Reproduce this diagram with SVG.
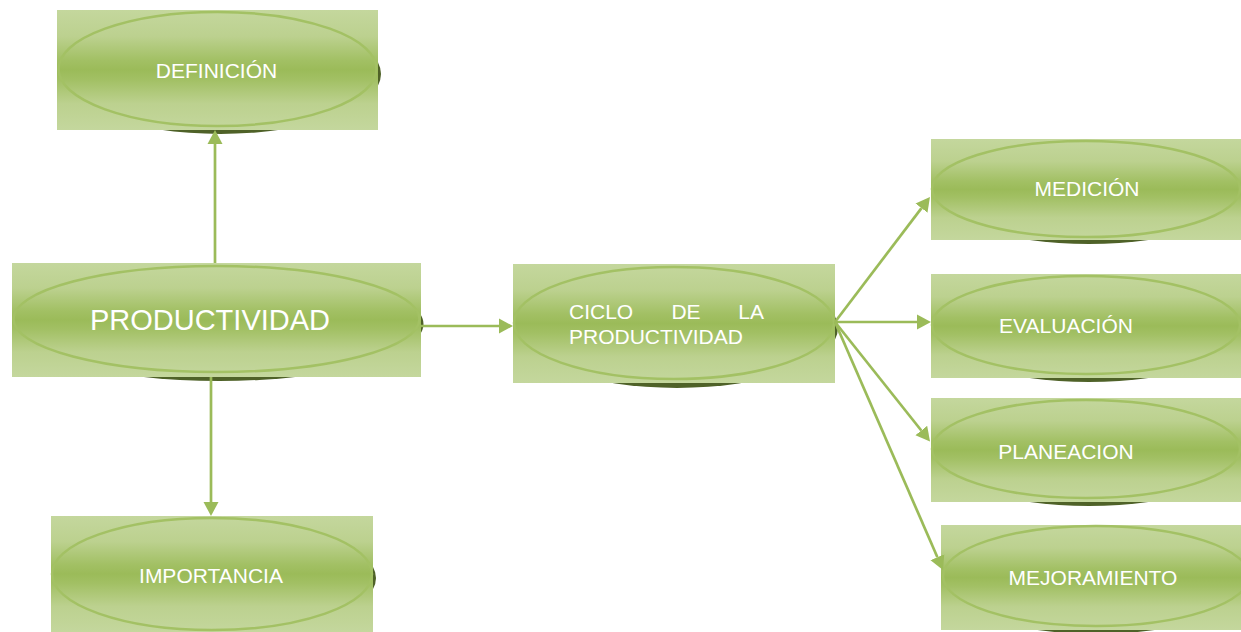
<svg xmlns="http://www.w3.org/2000/svg" width="1241" height="632" viewBox="0 0 1241 632">
  <defs>
    <linearGradient id="fillGrad" x1="0" y1="0" x2="0" y2="1">
      <stop offset="0" stop-color="#c4d79d"/>
      <stop offset="0.22" stop-color="#bcd18f"/>
      <stop offset="0.42" stop-color="#a2c064"/>
      <stop offset="0.5" stop-color="#9bbb59"/>
      <stop offset="0.58" stop-color="#a2c064"/>
      <stop offset="0.78" stop-color="#bcd18f"/>
      <stop offset="1" stop-color="#c4d79d"/>
    </linearGradient>
    <marker id="arrow" markerUnits="userSpaceOnUse" markerWidth="16" markerHeight="18" refX="0" refY="8" orient="auto" viewBox="0 -1 16 18">
      <path d="M0,0.5 L14,8 L0,15.5 z" fill="#9bbb59"/>
    </marker>
    <style>
      .shadow { fill: #4f6228; }
      .box { fill: url(#fillGrad); }
      .ring { fill: none; stroke: #a3c164; stroke-width: 2.5; }
      .label { fill: #ffffff; font-family: "Liberation Sans", Arial, sans-serif; font-size: 21px; }
      .big { font-size: 29px; }
      .link { stroke: #9bbb59; stroke-width: 2.7; fill: none; marker-end: url(#arrow); }
    </style>
  </defs>

  <rect width="1241" height="632" fill="#ffffff"/>

  <!-- DEFINICIÓN -->
  <g id="definicion">
    <ellipse class="shadow" cx="220.5" cy="74" rx="160.5" ry="60"/>
    <rect class="box" x="57" y="10" width="321" height="120"/>
    <ellipse class="ring" cx="217.5" cy="69" rx="159" ry="57"/>
    <text class="label" x="216.5" y="78" text-anchor="middle">DEFINICIÓN</text>
  </g>

  <!-- PRODUCTIVIDAD -->
  <g id="productividad">
    <ellipse class="shadow" cx="219.5" cy="324" rx="204" ry="57"/>
    <rect class="box" x="12" y="263" width="409" height="114"/>
    <ellipse class="ring" cx="216.5" cy="319" rx="203" ry="53"/>
    <text class="label big" x="210" y="330" text-anchor="middle">PRODUCTIVIDAD</text>
  </g>

  <!-- CICLO DE LA PRODUCTIVIDAD -->
  <g id="ciclo">
    <ellipse class="shadow" cx="677" cy="328" rx="161" ry="60"/>
    <rect class="box" x="513" y="264" width="322" height="119"/>
    <ellipse class="ring" cx="674" cy="323" rx="160" ry="56"/>
    <text class="label" x="569" y="319">CICLO</text>
    <text class="label" x="686" y="319" text-anchor="middle">DE</text>
    <text class="label" x="764" y="319" text-anchor="end">LA</text>
    <text class="label" x="569" y="344">PRODUCTIVIDAD</text>
  </g>

  <!-- IMPORTANCIA -->
  <g id="importancia">
    <ellipse class="shadow" cx="215" cy="578" rx="161" ry="58"/>
    <rect class="box" x="51" y="516" width="322" height="116"/>
    <ellipse class="ring" cx="212" cy="574" rx="160" ry="56"/>
    <text class="label" x="211" y="583" text-anchor="middle">IMPORTANCIA</text>
  </g>

  <!-- MEDICIÓN -->
  <g id="medicion">
    <ellipse class="shadow" cx="1089" cy="193" rx="155" ry="51"/>
    <rect class="box" x="931" y="139" width="312" height="101"/>
    <ellipse class="ring" cx="1086" cy="189" rx="154" ry="48"/>
    <text class="label" x="1087" y="196" text-anchor="middle">MEDICIÓN</text>
  </g>

  <!-- EVALUACIÓN -->
  <g id="evaluacion">
    <ellipse class="shadow" cx="1089" cy="330" rx="155" ry="52"/>
    <rect class="box" x="931" y="274" width="312" height="104"/>
    <ellipse class="ring" cx="1086" cy="325" rx="154" ry="49"/>
    <text class="label" x="1066" y="333" text-anchor="middle">EVALUACIÓN</text>
  </g>

  <!-- PLANEACION -->
  <g id="planeacion">
    <ellipse class="shadow" cx="1089" cy="454" rx="155" ry="52"/>
    <rect class="box" x="931" y="398" width="312" height="104"/>
    <ellipse class="ring" cx="1086" cy="449" rx="154" ry="49"/>
    <text class="label" x="1066" y="459" text-anchor="middle">PLANEACION</text>
  </g>

  <!-- MEJORAMIENTO -->
  <g id="mejoramiento">
    <ellipse class="shadow" cx="1096" cy="581" rx="153" ry="53"/>
    <rect class="box" x="941" y="525" width="306" height="105"/>
    <ellipse class="ring" cx="1096" cy="576" rx="153" ry="50"/>
    <text class="label" x="1093" y="585" text-anchor="middle">MEJORAMIENTO</text>
  </g>

  <!-- connectors -->
  <g id="connectors">
    <line class="link" x1="215" y1="263" x2="215" y2="144"/>
    <line class="link" x1="211" y1="377" x2="211" y2="502"/>
    <line class="link" x1="421" y1="326" x2="499" y2="326"/>
    <line class="link" x1="835" y1="322" x2="921.5" y2="208.1"/>
    <line class="link" x1="835" y1="322" x2="917" y2="322"/>
    <line class="link" x1="835" y1="322" x2="921.3" y2="430.5"/>
    <line class="link" x1="835" y1="322" x2="937.4" y2="557.2"/>
  </g>
</svg>
